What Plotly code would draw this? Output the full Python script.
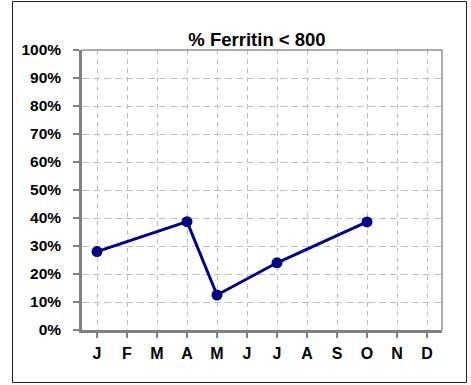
import plotly.graph_objects as go

# Monthly share of patients with ferritin below 800
months = ["J", "F", "M", "A", "M", "J", "J", "A", "S", "O", "N", "D"]
pct_ferritin_lt_800 = [28.0, None, None, 38.7, 12.5, None, 24.0, None, None, 38.6, None, None]
y_ticks = [0, 10, 20, 30, 40, 50, 60, 70, 80, 90, 100]
y_tick_labels = [f"{v}%" for v in y_ticks]

W, H = 471, 385
L, R, T, B = 82, 29, 50, 55
pw, ph = W - L - R, H - T - B

x_idx = list(range(len(months)))

fig = go.Figure()
fig.add_trace(go.Scatter(
    x=x_idx,
    y=pct_ferritin_lt_800,
    mode="lines+markers",
    connectgaps=True,
    line=dict(color="#000080", width=3),
    marker=dict(color="#000080", size=11, symbol="circle"),
    cliponaxis=False,
    showlegend=False,
))

font_family = "Liberation Sans, Arial, sans-serif"

fig.update_layout(
    width=W, height=H,
    margin=dict(l=L, r=R, t=T, b=B),
    paper_bgcolor="white",
    plot_bgcolor="white",
    font=dict(family=font_family, color="black"),
    title=dict(
        text="<b>% Ferritin < 800</b>",
        font=dict(size=18.5, family=font_family, color="black"),
        x=(257 - L) / pw, xanchor="center", xref="paper",
        y=1 - 40 / H, yanchor="middle", yref="container",
    ),
    xaxis=dict(
        range=[-0.5, 11.5],
        tickmode="array",
        tickvals=x_idx,
        ticktext=[f"<b>{m}</b>" for m in months],
        tickfont=dict(size=16, family=font_family, color="black"),
        ticks="outside", ticklen=5, tickwidth=2, tickcolor="#808080",
        ticklabelstandoff=2,
        showline=True, linecolor="#808080", linewidth=2.5,
        showgrid=True, gridcolor="#c0c0c0", gridwidth=1.2, griddash="5px,4px",
        zeroline=False, fixedrange=True,
    ),
    yaxis=dict(
        range=[0, 100],
        tickmode="array",
        tickvals=y_ticks,
        ticktext=[f"<b>{t}</b>" for t in y_tick_labels],
        tickfont=dict(size=15.5, family=font_family, color="black"),
        ticks="outside", ticklen=6, tickwidth=2, tickcolor="#808080",
        ticklabelstandoff=9,
        showline=True, linecolor="#808080", linewidth=2.5,
        showgrid=True, gridcolor="#c0c0c0", gridwidth=1.2, griddash="7px,4px",
        zeroline=False, fixedrange=True,
    ),
    shapes=[
        # thin frame on top and right of the plot area
        dict(type="line", xref="paper", yref="paper", x0=0, x1=1, y0=1, y1=1,
             line=dict(color="#909090", width=1.5)),
        dict(type="line", xref="paper", yref="paper", x0=1, x1=1, y0=0, y1=1,
             line=dict(color="#909090", width=1.5)),
        # outer chart border
        dict(type="rect", xref="paper", yref="paper",
             x0=(12.5 - L) / pw, x1=(466.5 - L) / pw,
             y0=(H - B - 382.5) / ph, y1=(H - B - 1.5) / ph,
             line=dict(color="#202020", width=1), fillcolor="rgba(0,0,0,0)",
             layer="below"),
    ],
)

fig.write_html("out.html")
